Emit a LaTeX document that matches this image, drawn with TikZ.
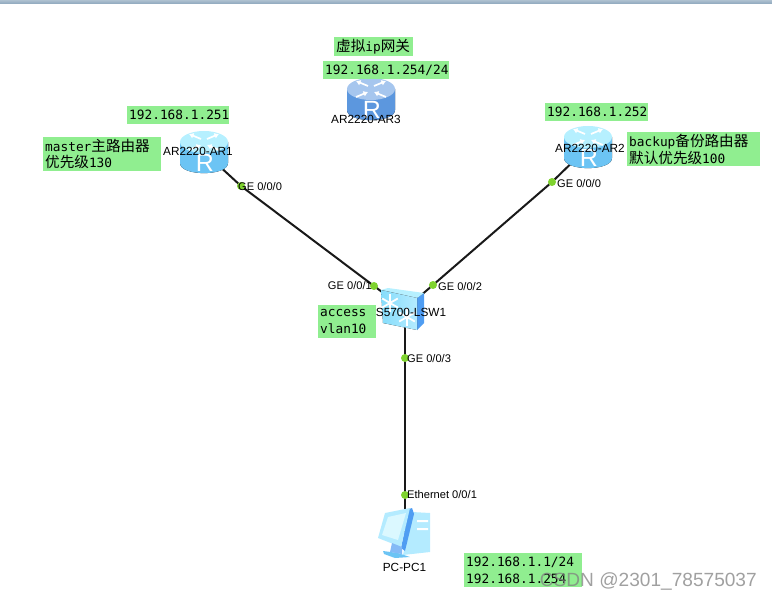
\documentclass[tikz,border=0pt]{standalone}
\usepackage{fontspec}
\setmainfont{Liberation Sans}
\newfontfamily\monofam{DejaVu Sans Mono}
\newfontfamily\cjk{Noto Sans CJK SC}
\usetikzlibrary{arrows.meta,backgrounds}
\definecolor{nGreen}{HTML}{90EE90}
\definecolor{nPort}{HTML}{7FD32F}
\definecolor{nBar}{HTML}{8CA6BC}
\definecolor{rEdge}{HTML}{6CC4F4}
\definecolor{rMid}{HTML}{B4EBFF}
\definecolor{rTop}{HTML}{B6F0FF}
\definecolor{vEdge}{HTML}{5C97DE}
\definecolor{vMid}{HTML}{8DBBEF}
\definecolor{vTop}{HTML}{A6C6EE}
\definecolor{sSide}{HTML}{4F9DF2}
\definecolor{sFace}{HTML}{86DDFB}
\newcommand{\zh}[1]{{\fontsize{14.6}{16}\cjk #1}}
\tikzset{
  note/.style={fill=nGreen, anchor=north west, inner sep=2pt, align=left, font=\fontsize{12.8}{16.5}\monofam},
  lbl/.style={font=\fontsize{11.8}{13}\selectfont, inner sep=0pt},
  plbl/.style={font=\fontsize{11.1}{13}\selectfont, inner sep=0pt},
  port/.style={circle, fill=nPort, minimum size=8pt, inner sep=0pt},
  link/.style={line width=2pt, black!90},
  rtr/.style={minimum width=48pt, minimum height=42pt, inner sep=0pt},
  harrow/.style={white, line width=1.7pt, -{Latex[length=4.5pt,width=6pt]}},
}
\begin{document}
\begin{tikzpicture}[x=1pt,y=-1pt]
\useasboundingbox (0,0) rectangle (772,599);
\fill[top color=nBar!70, bottom color=nBar] (0,0) rectangle (772,4);
% ================= routers =================
\foreach \nm/\px/\py/\cE/\cM/\cT in {ar1/204/152/rEdge/rMid/rTop, ar2/588/147/rEdge/rMid/rTop, ar3/371/99/vEdge/vMid/vTop}{
  \node[rtr] (\nm) at (\px,\py) {};
  \begin{scope}[shift={(\px,\py)}]
  \fill[left color=\cE, middle color=\cM, right color=\cE] (-24,-10) -- (-24,11) .. controls (-24,24.5) and (24,24.5) .. (24,11) -- (24,-10) -- cycle;
  \fill[\cT] (0,-10) ellipse [x radius=24, y radius=11];
  \foreach \a/\b/\c/\d in {-3/-3/-15/-8, 3/-3/15/-8}{
    \draw[harrow] (\a,-10+\b) -- (\c,-10+\d);
    \draw[harrow] (\c,-10-\d) -- (\a,-10-\b);}
  \node[white, font=\fontsize{25}{25}\selectfont, inner sep=0pt] (\nm r) at (1,10.5) {R};
  \end{scope}}
% ================= switch =================
\node[rtr, minimum width=43pt] (lsw) at (405,309) {};
\fill[sSide] (417,298) -- (424,293) -- (424,323) -- (417,330) -- cycle;
\fill[rTop] (381,290) -- (388,288) -- (424,293) -- (417,298) -- cycle;
\fill[left color=sFace, right color=rMid] (381,290) -- (417,298) -- (417,330) -- (383,323) -- cycle;
\foreach \a in {0,60,...,300}{
  \draw[white, line width=1.8pt] (390,303) -- ++(\a+30:9pt);
  \draw[white, line width=1.8pt] (407,317) -- ++(\a+30:9pt);}
% ================= pc =================
\node[rtr, minimum width=52pt, minimum height=52pt] (pc) at (405,540) {};
\fill[rMid] (412,512) -- (430,513) -- (430,552) -- (403,555) -- cycle;
\fill[white] (417,520) rectangle (428,522) (417,528) rectangle (428,530);
\fill[sSide] (409,509) -- (412,508) -- (414,514) -- (405,551) -- (401,548) -- cycle;
\fill[rMid] (385,513) -- (410,508) -- (401,547) -- (378,538) -- cycle;
\fill[rTop!50!white] (388,517) -- (406,513) -- (398,540) -- (382,535) -- cycle;
\fill[rEdge] (383,551) -- (398,553) -- (410,557) -- (395,558) -- (384,554) -- cycle;
\fill[sSide!70!white] (392,543) -- (402,547) -- (402,554) -- (390,552) -- cycle;
% ================= ports and links =================
\node[port] (p1) at (241,186) {};
\node[port] (p2) at (374,286) {};
\node[port] (p3) at (552,182) {};
\node[port] (p4) at (433,285) {};
\node[port] (p5) at (405,358) {};
\node[port] (p6) at (405,495) {};
\begin{scope}[on background layer]
\draw[link] (ar1.center) -- (p1.center) -- (p2.center) -- (lsw.center);
\draw[link] (ar2.center) -- (p3.center) -- (p4.center) -- (lsw.center);
\draw[link] (lsw.center) -- (p5.center) -- (p6.center) -- (pc.center);
\end{scope}
% ================= labels =================
\node[lbl] (lar1) at (198,151) {AR2220-AR1};
\node[lbl] (lar2) at (590,148) {AR2220-AR2};
\node[lbl] (lar3) at (366,119) {AR2220-AR3};
\node[lbl] (llsw) at (411,312) {S5700-LSW1};
\node[lbl] (lpc) at (404.5,567) {PC-PC1};
\node[plbl, anchor=west] (lp1) at (238,187) {GE 0/0/0};
\node[plbl, anchor=east] (lp2) at (372,286) {GE 0/0/1};
\node[plbl, anchor=west] (lp3) at (557,184) {GE 0/0/0};
\node[plbl, anchor=west] (lp4) at (438,287) {GE 0/0/2};
\node[plbl, anchor=west] (lp5) at (407,359) {GE 0/0/3};
\node[plbl, anchor=west] (lp6) at (407,495) {Ethernet 0/0/1};
% ================= notes =================
\node[note, text width=75pt, minimum height=18pt] (n1) at (334,37) {\zh{虚拟}ip\zh{网关}};
\node[note, text width=122pt, minimum height=18pt] (n2) at (323,61) {192.168.1.254/24};
\node[note, text width=98pt, minimum height=18pt] (n3) at (127,106) {192.168.1.251};
\node[note, text width=114pt, minimum height=33pt] (n4) at (43,137) {master\zh{主路由器}\\\zh{优先级}130};
\node[note, text width=99pt, minimum height=18pt] (n5) at (545,103) {192.168.1.252};
\node[note, text width=129pt, minimum height=33pt] (n6) at (627,132) {backup\zh{备份路由器}\\\zh{默认优先级}100};
\node[note, text width=54pt, minimum height=33pt] (n7) at (318,305) {access\\vlan10};
\node[note, text width=114pt, minimum height=34pt] (n8) at (464,553) {192.168.1.1/24\\192.168.1.254};
\node[font=\fontsize{19.1}{20}\selectfont, text=black!50, opacity=0.75, inner sep=0pt, anchor=east] (mark) at (757,581) {CSDN @2301\_78575037};
\end{tikzpicture}
\end{document}
